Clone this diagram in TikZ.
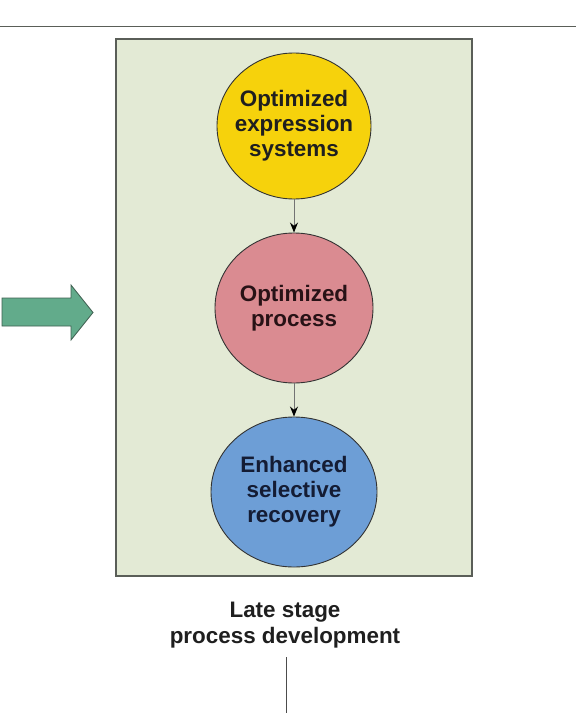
\documentclass[tikz,border=0pt]{standalone}
\usepackage{fontspec}
\setmainfont{Liberation Sans}
\usetikzlibrary{shapes.geometric,arrows.meta}
\definecolor{boxfill}{HTML}{E3EAD5}
\definecolor{boxline}{HTML}{5A5E58}
\definecolor{yel}{HTML}{F6D20C}
\definecolor{pnk}{HTML}{DA8B91}
\definecolor{blu}{HTML}{6D9ED6}
\definecolor{grn}{HTML}{62AB8B}
\definecolor{grnline}{HTML}{3F5F50}
\tikzset{
  blob/.style={ellipse, draw=black!80, line width=0.9bp, inner sep=0pt},
  lbl/.style={font=\fontsize{22.5}{25}\selectfont\bfseries, align=center, inner sep=0pt},
  conn/.style={draw=black!55, line width=1bp, -{Stealth[length=10bp,width=8bp,black]}},
}
\begin{document}
\begin{tikzpicture}[x=1bp,y=-1bp]
\useasboundingbox (0,0) rectangle (576,713);
% top rule
\coordinate (tl) at (0,26.5);
\coordinate (tr) at (576,26.5);
\draw[boxline, line width=1.8bp] (tl) -- (tr);
% main panel
\node[draw=boxline, line width=1.8bp, fill=boxfill, minimum width=356bp, minimum height=537bp, inner sep=0pt] (panel) at (294,307.5) {};
% green arrow
\draw[fill=grn, draw=grnline, line width=0.8bp] (2,298) -- (71,298) -- (71,285) -- (93,312.5) -- (71,340) -- (71,326) -- (2,326) -- cycle;
% circles
\node[blob, fill=yel, minimum width=154bp, minimum height=146bp] (ye) at (294,126) {};
\node[blob, fill=pnk, minimum width=158bp, minimum height=150bp] (pk) at (294,308) {};
\node[blob, fill=blu, minimum width=166bp, minimum height=150bp] (bl) at (294,492) {};
\node[lbl, text=black!88] (yt) at (ye.center) {Optimized\\expression\\systems};
\node[lbl, text={rgb,255:red,40;green,18;blue,22}] (pt) at (pk.center) {Optimized\\process};
\node[lbl, text={rgb,255:red,20;green,28;blue,52}] (bt) at (bl.center) {Enhanced\\selective\\recovery};
\draw[conn] (ye) -- (pk);
\draw[conn] (pk) -- (bl);
% caption
\node[lbl, text=black!88, font=\fontsize{22.5}{26}\selectfont\bfseries] (cap) at (285,625) {Late stage\\process development};
\coordinate (vt) at (286,657);
\coordinate (vb) at (286,713);
\draw[black!70, line width=1bp] (vt) -- (vb);
\end{tikzpicture}
\end{document}
